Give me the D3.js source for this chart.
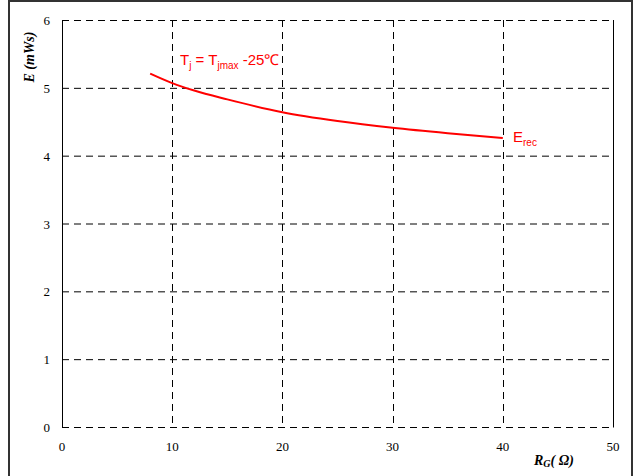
<!DOCTYPE html>
<html>
<head>
<meta charset="utf-8">
<script src="https://cdn.jsdelivr.net/npm/d3@7"></script>
<style>
  html, body { margin: 0; padding: 0; background: #fff; }
  svg { display: block; }
</style>
</head>
<body>
<svg id="chart" width="635" height="476"></svg>
<script>
// Reverse-recovery energy vs. gate resistance
const gateResistance = [8, 10, 12, 15, 20, 25, 30, 35, 40];
const recoveryEnergy = [5.21, 5.07, 4.96, 4.83, 4.64, 4.51, 4.41, 4.33, 4.26];
const xTicks = [0, 10, 20, 30, 40, 50];
const yTicks = [0, 1, 2, 3, 4, 5, 6];

const svg = d3.select("#chart");
const W = 635, H = 476;
const plot = { left: 62, right: 613, top: 20, bottom: 427 };

// outer frame
svg.append("rect")
  .attr("x", 9).attr("y", 1).attr("width", 623).attr("height", 490)
  .attr("fill", "none").attr("stroke", "#333").attr("stroke-width", 2);

const x = d3.scaleLinear().domain([0, 50]).range([plot.left, plot.right]);
const y = d3.scaleLinear().domain([0, 6]).range([plot.bottom, plot.top]);

const dash = "7,5";

// horizontal grid lines (including top and bottom edges)
svg.append("g").selectAll("line").data(yTicks).join("line")
  .attr("x1", plot.left).attr("x2", plot.right)
  .attr("y1", d => y(d) + 0.5).attr("y2", d => y(d) + 0.5)
  .attr("stroke", "#000").attr("stroke-width", 1)
  .attr("stroke-dasharray", dash);

// vertical grid lines
svg.append("g").selectAll("line").data([10, 20, 30, 40]).join("line")
  .attr("x1", d => Math.round(x(d)) + 0.5).attr("x2", d => Math.round(x(d)) + 0.5)
  .attr("y1", plot.top).attr("y2", plot.bottom)
  .attr("stroke", "#000").attr("stroke-width", 1)
  .attr("stroke-dasharray", dash);

// solid left and right edges
svg.append("line")
  .attr("x1", plot.left + 0.5).attr("x2", plot.left + 0.5)
  .attr("y1", plot.top).attr("y2", plot.bottom + 0.5)
  .attr("stroke", "#000").attr("stroke-width", 1);
svg.append("line")
  .attr("x1", plot.right + 0.5).attr("x2", plot.right + 0.5)
  .attr("y1", plot.top).attr("y2", plot.bottom + 0.5)
  .attr("stroke", "#000").attr("stroke-width", 1);

// tick labels
const tickFont = "'Liberation Serif', 'Times New Roman', serif";
svg.append("g").selectAll("text").data(yTicks).join("text")
  .attr("x", 50).attr("y", d => y(d) + 5)
  .attr("text-anchor", "end")
  .attr("font-family", tickFont).attr("font-size", 13)
  .text(d => d);
svg.append("g").selectAll("text").data(xTicks).join("text")
  .attr("x", d => x(d)).attr("y", 451)
  .attr("text-anchor", "middle")
  .attr("font-family", tickFont).attr("font-size", 13)
  .text(d => d);

// axis titles
const yTitle = svg.append("text")
  .attr("transform", "translate(34,57) rotate(-90)")
  .attr("text-anchor", "middle")
  .attr("font-family", tickFont).attr("font-size", 14)
  .attr("font-style", "italic").attr("font-weight", "bold");
yTitle.append("tspan").text("E (mWs)");

const xTitle = svg.append("text")
  .attr("x", 534).attr("y", 465)
  .attr("font-family", tickFont).attr("font-size", 14)
  .attr("font-style", "italic").attr("font-weight", "bold");
xTitle.append("tspan").text("R");
xTitle.append("tspan").attr("font-size", 10).attr("dy", 2).text("G");
xTitle.append("tspan").attr("dy", -2).attr("font-size", 14).text("( Ω)");

// curve
const line = d3.line()
  .x((d, i) => x(gateResistance[i]))
  .y(d => y(d))
  .curve(d3.curveMonotoneX);
svg.append("path")
  .attr("d", line(recoveryEnergy))
  .attr("fill", "none").attr("stroke", "#ff0000").attr("stroke-width", 2);

// annotations
const sans = "'Liberation Sans', Arial, sans-serif";
const cond = svg.append("text")
  .attr("x", 180).attr("y", 65)
  .attr("font-family", sans).attr("font-size", 15).attr("fill", "#ff0000");
cond.append("tspan").text("T");
cond.append("tspan").attr("font-size", 10).attr("dy", 4).text("j");
cond.append("tspan").attr("dy", -4).text(" = T");
cond.append("tspan").attr("font-size", 10).attr("dy", 4).text("jmax");
cond.append("tspan").attr("dy", -4).text(" -25℃");

const erec = svg.append("text")
  .attr("x", 513).attr("y", 142)
  .attr("font-family", sans).attr("font-size", 15).attr("fill", "#ff0000");
erec.append("tspan").text("E");
erec.append("tspan").attr("font-size", 10).attr("dy", 4).text("rec");
</script>
</body>
</html>
